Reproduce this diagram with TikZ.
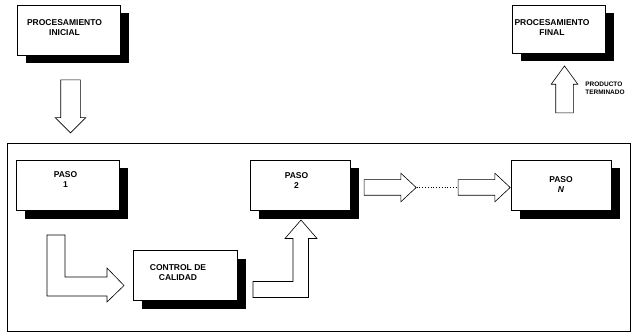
\documentclass[tikz,border=0pt]{standalone}
\usepackage{fontspec}
\setmainfont{Liberation Sans}
\usetikzlibrary{shapes.arrows, shadows, positioning, calc}

\begin{document}
\begin{tikzpicture}[
  x=1pt, y=1pt,
  line width=0.6pt,
  every node/.style={align=center},
  %% --- estilos ---
  caja/.style={
    draw=black, fill=white, inner sep=0pt,
    drop shadow={shadow xshift=8.5pt, shadow yshift=-8.5pt, fill=black, opacity=1}
  },
  texto/.style={font=\fontsize{8.5}{10}\selectfont\bfseries, inner sep=0pt},
  etiqueta/.style={font=\fontsize{6.5}{8}\selectfont\bfseries, align=left, inner sep=0pt},
  flecha/.style={
    draw=black, fill=white, single arrow, single arrow head indent=0pt,
    inner xsep=0pt
  },
  bloque/.style={draw=black, fill=white, line join=miter}
]
  \useasboundingbox (0,0) rectangle (637,335);

  %% --- marco de las etapas ---
  \node[draw=black, minimum width=623pt, minimum height=188pt] (etapas) at (318.5,98) {};

  %% --- procesamiento inicial y final ---
  \node[caja, minimum width=103pt, minimum height=50pt,
    label={[texto, xshift=-4pt, yshift=2pt]center:PROCESAMIENTO\\INICIAL}] (inicial) at (68.5,305) {};
  \node[caja, minimum width=93pt, minimum height=48pt,
    label={[texto, xshift=-6.5pt, yshift=1pt]center:PROCESAMIENTO\\FINAL}] (final) at (558.5,306) {};

  %% --- pasos ---
  \node[caja, minimum width=103pt, minimum height=50pt,
    label={[texto, xshift=-2pt, yshift=5pt]center:PASO\\1}] (paso1) at (67.5,150) {};
  \node[caja, minimum width=100pt, minimum height=50pt,
    label={[texto, xshift=-4pt, yshift=4pt]center:PASO\\2}] (paso2) at (300.5,150) {};
  \node[caja, minimum width=100pt, minimum height=50pt,
    label={[texto]center:PASO\\\textit{N}}] (pasoN) at (561,150) {};
  \node[caja, minimum width=104pt, minimum height=50pt,
    label={[texto, xshift=-7pt, yshift=2.5pt]center:CONTROL DE\\CALIDAD}] (control) at (185,60) {};

  %% --- flechas rectas ---
  \node[flecha, rotate=-90, minimum height=53pt, minimum width=30pt, inner ysep=9.5pt,
    single arrow head extend=5.5pt, single arrow tip angle=90] (bajada) at (70.5,233.5) {};
  \node[flecha, rotate=90, minimum height=47pt, minimum width=26pt, inner ysep=8.5pt,
    single arrow head extend=4.5pt, single arrow tip angle=72] (subida) at (564.5,239.5) {};
  \node[etiqueta, anchor=west] (producto) at (585,246.5) {PRODUCTO\\TERMINADO};

  \node[flecha, minimum height=52pt, minimum width=28pt, inner ysep=7.5pt,
    single arrow head extend=6.5pt, single arrow tip angle=86] (avance1) at (386,147.5) {};
  \node[flecha, minimum height=52pt, minimum width=28pt, inner ysep=7.5pt,
    single arrow head extend=6.5pt, single arrow tip angle=86] (avance2) at (480,147.5) {};
  \draw[dotted, line width=0.8pt] (avance1.tip) -- (avance2.tail);

  %% --- flechas en L (paso 1 -> control -> paso 2) ---
  \draw[bloque] (47,100) -- (65,100) -- (65,58) -- (107,58) -- (107,67)
    -- (124,49.5) -- (107,33) -- (107,39) -- (47,39) -- cycle;
  \draw[bloque] (253,53.5) -- (293,53.5) -- (293,96.5) -- (285,96.5)
    -- (301,115) -- (317,96.5) -- (308.5,96.5) -- (308.5,37.5) -- (253,37.5) -- cycle;

\end{tikzpicture}
\end{document}
